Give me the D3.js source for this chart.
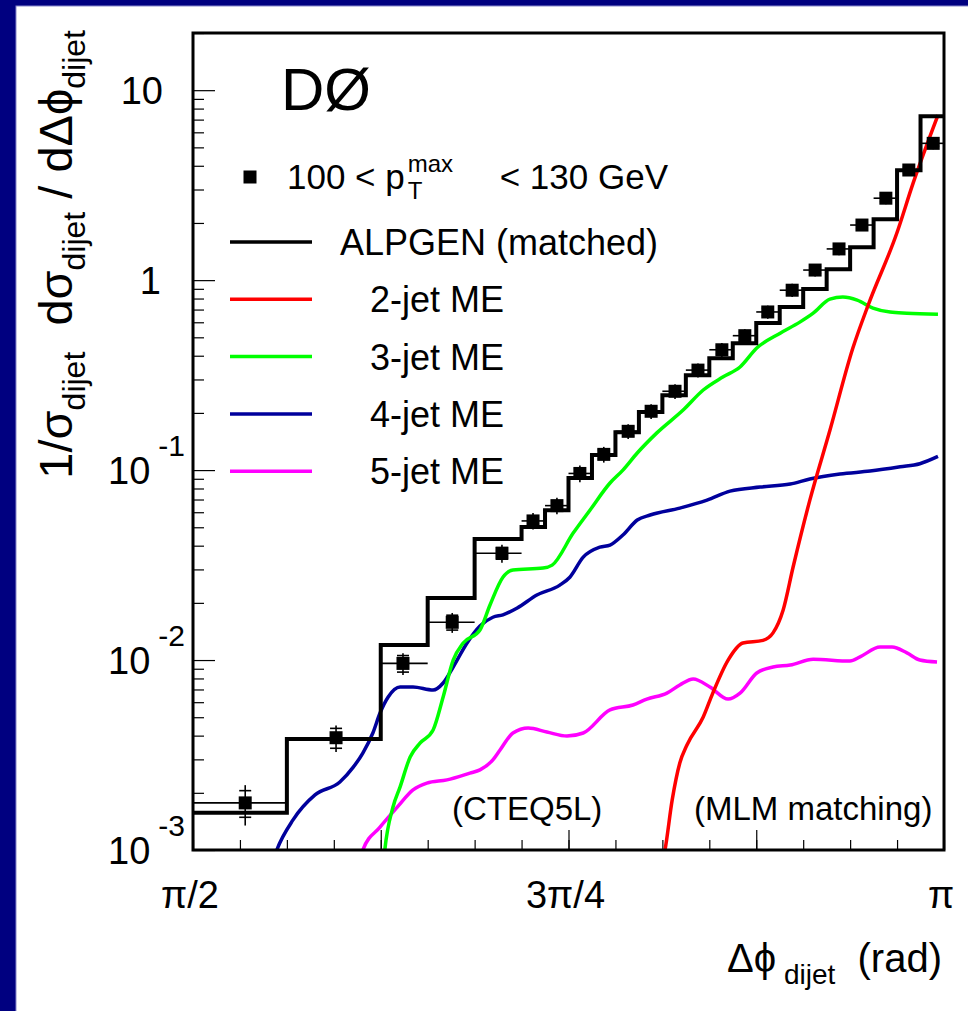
<!DOCTYPE html>
<html>
<head>
<meta charset="utf-8">
<script src="https://cdn.jsdelivr.net/npm/d3@7"></script>
<style>
body { margin: 0; background: #fff; }
text { font-family: "Liberation Sans", Arial, Helvetica, sans-serif; fill: #000; }
</style>
</head>
<body>
<svg id="chart" width="968" height="1011"></svg>
<script>

// bin edges in units of pi/64 above pi/2
var binEdges = [0, 4, 8, 10, 12, 14, 15, 16, 17, 18, 19, 20, 21, 22, 23, 24, 25, 26, 27, 28, 29, 30, 31, 32];

// D0 data, 100 < pT max < 130 GeV
var dataX = [1.680, 1.870, 2.010, 2.113, 2.217, 2.282, 2.332, 2.380, 2.430, 2.481, 2.529, 2.579,
             2.627, 2.677, 2.725, 2.773, 2.824, 2.872, 2.922, 2.970, 3.020, 3.068, 3.119];
var dataY = [1.77e-3, 3.9e-3, 9.6e-3, 1.58e-2, 3.65e-2, 5.4e-2, 6.5e-2, 0.096, 0.121, 0.16, 0.204, 0.26,
             0.336, 0.43, 0.51, 0.68, 0.885, 1.13, 1.46, 1.95, 2.7, 3.8, 5.25];
var statErr = [0.16, 0.12, 0.10, 0.09, 0.07, 0.06, 0.06, 0.06, 0.055, 0.055, 0.05, 0.05,
               0.05, 0.05, 0.045, 0.045, 0.045, 0.04, 0.04, 0.04, 0.04, 0.035, 0.035];
var totErr = [0.24, 0.16, 0.13, 0.12, 0.11, 0.10, 0.10, 0.10, 0.095, 0.09, 0.09, 0.09,
              0.085, 0.085, 0.08, 0.08, 0.08, 0.075, 0.075, 0.07, 0.07, 0.07, 0.07];

// ALPGEN (matched) histogram, one value per bin
var alpgen = [1.57e-3, 3.84e-3, 0.0120, 0.0212, 0.0434, 0.0501, 0.0615, 0.0908, 0.120, 0.158, 0.202, 0.248,
              0.316, 0.388, 0.466, 0.594, 0.721, 0.898, 1.14, 1.49, 2.09, 3.79, 7.3];

// n-jet ME contributions [dphi, value]
var me2 = [[2.548, 7.85e-4], [2.558, 1.0e-3], [2.573, 1.83e-3], [2.589, 2.87e-3], [2.604, 3.57e-3],
           [2.638, 5.01e-3], [2.658, 6.7e-3], [2.690, 1.0e-2], [2.721, 1.23e-2], [2.763, 1.27e-2],
           [2.784, 1.39e-2], [2.805, 1.83e-2], [2.826, 3.09e-2], [2.861, 6.95e-2], [2.903, 0.162],
           [2.951, 0.439], [2.983, 0.739], [3.043, 1.77], [3.077, 3.24], [3.129, 7.39]];

var me3 = [[1.968, 7.85e-4], [1.972, 1.0e-3], [1.989, 1.68e-3], [2.004, 2.15e-3], [2.025, 3.09e-3],
           [2.046, 3.66e-3], [2.073, 4.28e-3], [2.094, 6.39e-3], [2.115, 1.0e-2], [2.136, 1.23e-2],
           [2.171, 1.44e-2], [2.192, 1.95e-2], [2.219, 2.73e-2], [2.240, 2.98e-2], [2.303, 3.05e-2],
           [2.322, 3.16e-2], [2.366, 4.66e-2], [2.401, 6.15e-2], [2.443, 8.55e-2], [2.470, 0.1],
           [2.500, 0.123], [2.541, 0.157], [2.596, 0.207], [2.638, 0.264], [2.679, 0.309],
           [2.715, 0.349], [2.750, 0.439], [2.799, 0.526], [2.840, 0.601], [2.868, 0.670],
           [2.903, 0.794], [2.930, 0.814], [2.960, 0.785], [2.993, 0.713], [3.029, 0.679],
           [3.064, 0.670], [3.129, 0.662]];

var me4 = [[1.732, 7.85e-4], [1.746, 1.0e-3], [1.780, 1.44e-3], [1.826, 1.95e-3], [1.878, 2.28e-3],
           [1.906, 2.73e-3], [1.926, 3.24e-3], [1.947, 4.13e-3], [1.962, 5.26e-3], [1.979, 6.39e-3],
           [2.004, 7.21e-3], [2.031, 7.21e-3], [2.073, 6.95e-3], [2.094, 7.57e-3], [2.115, 9.19e-3],
           [2.144, 1.23e-2], [2.171, 1.51e-2], [2.198, 1.68e-2], [2.219, 1.73e-2], [2.249, 1.88e-2],
           [2.290, 2.20e-2], [2.338, 2.48e-2], [2.359, 2.73e-2], [2.387, 3.48e-2], [2.422, 3.93e-2],
           [2.443, 4.03e-2], [2.470, 4.55e-2], [2.500, 5.46e-2], [2.527, 5.80e-2], [2.589, 6.31e-2],
           [2.646, 6.95e-2], [2.694, 7.75e-2], [2.757, 8.14e-2], [2.820, 8.44e-2], [2.861, 8.97e-2],
           [2.924, 9.53e-2], [2.987, 9.88e-2], [3.050, 0.104], [3.091, 0.108], [3.129, 0.118]];

var me5 = [[1.920, 7.85e-4], [1.926, 1.0e-3], [1.962, 1.32e-3], [1.998, 1.68e-3], [2.031, 2.07e-3],
           [2.060, 2.25e-3], [2.102, 2.34e-3], [2.150, 2.54e-3], [2.171, 2.64e-3], [2.198, 2.98e-3],
           [2.213, 3.36e-3], [2.240, 4.13e-3], [2.272, 4.39e-3], [2.311, 4.18e-3], [2.353, 3.98e-3],
           [2.387, 4.13e-3], [2.443, 5.46e-3], [2.491, 5.80e-3], [2.520, 6.23e-3], [2.562, 6.70e-3],
           [2.589, 7.39e-3], [2.617, 7.94e-3], [2.652, 7.21e-3], [2.690, 6.23e-3], [2.715, 6.70e-3],
           [2.750, 8.55e-3], [2.784, 9.19e-3], [2.820, 9.41e-3], [2.868, 1.01e-2], [2.945, 9.88e-3],
           [2.966, 1.04e-2], [3.008, 1.17e-2], [3.033, 1.17e-2], [3.064, 1.09e-2], [3.091, 1.0e-2],
           [3.127, 9.76e-3]];

var legendLabels = ["ALPGEN (matched)", "   2-jet ME", "   3-jet ME", "   4-jet ME", "   5-jet ME"];
var legendColors = ["#000000", "#ff0000", "#00ff00", "#00009c", "#ff00ff"];
var xTickLabels = ["\u03c0/2", "3\u03c0/4", "\u03c0"];

var svg = d3.select("#chart");
var W = 968, H = 1011;
var mL = 193, mR = 944, mT = 33, mB = 850;

// navy frame of the slide (left and top only)
svg.append("rect").attr("x", 0).attr("y", 0).attr("width", W).attr("height", H).style("fill", "#000080");
svg.append("rect").attr("x", 16).attr("y", 6).attr("width", W).attr("height", H)
    .style("fill", "#ffffff").style("stroke", "#8888cc").style("stroke-width", 1);

var x = d3.scaleLinear().domain([Math.PI / 2, Math.PI]).range([mL, mR]);
var y = d3.scaleLog().domain([1e-3, 20]).range([mB, mT]);

var step = Math.PI / 64;
var edgeX = binEdges.map(function(k){ return Math.PI / 2 + k * step; });

// ticks
var yMajor = [1e-3, 1e-2, 1e-1, 1, 10];
var yMinor = [];
yMajor.forEach(function(d){
    for (var m = 2; m <= 9; m++) {
        if (d * m <= 20) yMinor.push(d * m);
    }
});
var xMinor = d3.range(0, 17).map(function(k){ return Math.PI / 2 + k * Math.PI / 32; });
var xMajor = d3.range(0, 5).map(function(k){ return Math.PI / 2 + k * Math.PI / 8; });

function tickAxis(axis, pos, vals, size) {
    var g = svg.append("g").attr("transform", pos)
        .call(axis.tickValues(vals).tickSize(-size).tickFormat(""));
    g.select(".domain").remove();
    g.selectAll("line").style("stroke", "#000").style("stroke-width", 1.2);
}
tickAxis(d3.axisLeft(y), "translate(" + mL + ",0)", yMinor, 11);
tickAxis(d3.axisLeft(y), "translate(" + mL + ",0)", yMajor, 22);
tickAxis(d3.axisBottom(x), "translate(0," + mB + ")", xMinor, 10);
tickAxis(d3.axisBottom(x), "translate(0," + mB + ")", xMajor, 20);

svg.append("clipPath").attr("id", "plotclip").append("rect")
    .attr("x", mL).attr("y", mT).attr("width", mR - mL).attr("height", mB - mT);
var plot = svg.append("g").attr("clip-path", "url(#plotclip)");

// ME curves
var curve = d3.line()
    .x(function(d){ return x(d[0]); })
    .y(function(d){ return y(d[1]); })
    .curve(d3.curveMonotoneX);

[[me5, legendColors[4]], [me4, legendColors[3]], [me3, legendColors[2]], [me2, legendColors[1]]].forEach(function(s){
    plot.append("path")
        .attr("d", curve(s[0]))
        .style("fill", "none")
        .style("stroke", s[1])
        .style("stroke-width", 3.5);
});

// ALPGEN histogram
var histPts = alpgen.map(function(v, i){ return [edgeX[i], v]; });
histPts.push([edgeX[edgeX.length - 1], alpgen[alpgen.length - 1]]);
plot.append("path")
    .attr("d", d3.line()
        .x(function(d){ return x(d[0]); })
        .y(function(d){ return y(d[1]); })
        .curve(d3.curveStepAfter)(histPts))
    .style("fill", "none")
    .style("stroke", "#000")
    .style("stroke-width", 4);

// data points with errors
var pts = dataY.map(function(v, i){
    return { x: dataX[i], v: v, lo: edgeX[i], hi: edgeX[i + 1], s: statErr[i], t: totErr[i] };
});
var dg = plot.append("g").selectAll("g").data(pts).enter().append("g");
dg.append("line")
    .attr("x1", function(d){ return x(d.lo); })
    .attr("x2", function(d){ return x(d.hi); })
    .attr("y1", function(d){ return y(d.v); })
    .attr("y2", function(d){ return y(d.v); })
    .style("stroke", "#000").style("stroke-width", 1.6);
dg.append("line")
    .attr("x1", function(d){ return x(d.x); })
    .attr("x2", function(d){ return x(d.x); })
    .attr("y1", function(d){ return y(d.v * (1 + d.t)); })
    .attr("y2", function(d){ return y(d.v * (1 - d.t)); })
    .style("stroke", "#000").style("stroke-width", 1.6);
[1, -1].forEach(function(sgn){
    dg.append("line")
        .attr("x1", function(d){ return x(d.x) - 6; })
        .attr("x2", function(d){ return x(d.x) + 6; })
        .attr("y1", function(d){ return y(d.v * (1 + sgn * d.s)); })
        .attr("y2", function(d){ return y(d.v * (1 + sgn * d.s)); })
        .style("stroke", "#000").style("stroke-width", 1.6);
});
dg.append("rect")
    .attr("x", function(d){ return x(d.x) - 6.5; })
    .attr("y", function(d){ return y(d.v) - 6.5; })
    .attr("width", 13).attr("height", 13)
    .style("fill", "#000");

// frame
svg.append("rect").attr("x", mL).attr("y", mT)
    .attr("width", mR - mL).attr("height", mB - mT)
    .style("fill", "none").style("stroke", "#000").style("stroke-width", 3);

// y tick labels
var yl = svg.append("g").style("font-size", "38px");
yl.append("text").attr("x", 163).attr("y", y(10)).attr("dy", "0.36em").attr("text-anchor", "end").text("10");
yl.append("text").attr("x", 161).attr("y", y(1)).attr("dy", "0.36em").attr("text-anchor", "end").text("1");
[-1, -2, -3].forEach(function(e){
    var t = yl.append("text").attr("x", 185).attr("y", y(Math.pow(10, e))).attr("dy", "0.36em")
        .attr("text-anchor", "end").text("10");
    t.append("tspan").attr("dx", 8).attr("dy", -28).style("font-size", "30px").text(e);
});

// x tick labels
svg.append("g").selectAll("text").data(xTickLabels).enter().append("text")
    .attr("x", function(d, i){ return x(Math.PI / 2 + i * Math.PI / 4) - 3; })
    .attr("y", 908)
    .attr("text-anchor", "middle")
    .style("font-size", "38px")
    .text(function(d){ return d; });

// axis titles
var xt = svg.append("text").attr("x", 942).attr("y", 972).attr("text-anchor", "end")
    .style("font-size", "40px").style("white-space", "pre");
xt.append("tspan").text("\u0394\u03d5");
xt.append("tspan").attr("dy", 12).style("font-size", "28px").text(" dijet");
xt.append("tspan").attr("dy", -12).text("  (rad)");

var ytl = svg.append("text").attr("transform", "translate(72,30) rotate(-90)")
    .attr("text-anchor", "end").style("font-size", "47px").style("white-space", "pre");
ytl.append("tspan").text("1/\u03c3");
ytl.append("tspan").attr("dy", 13).style("font-size", "32px").text("dijet");
ytl.append("tspan").attr("dy", -13).text("  d\u03c3");
ytl.append("tspan").attr("dy", 13).style("font-size", "32px").text("dijet");
ytl.append("tspan").attr("dy", -13).text(" / d\u0394\u03d5");
ytl.append("tspan").attr("dy", 13).style("font-size", "32px").text("dijet");

// DØ label
svg.append("text").attr("x", 281).attr("y", 110).style("font-size", "60px").text("D\u00d8");

// legend
svg.append("rect").attr("x", 243.5).attr("y", 170.5).attr("width", 13).attr("height", 13).style("fill", "#000");
var lt = svg.append("g").style("font-size", "35px").style("white-space", "pre");
var t1 = lt.append("text").attr("x", 287).attr("y", 189).text("100 < p");
var px = 287 + t1.node().getComputedTextLength() + 3;
lt.append("text").attr("x", px).attr("y", 199).style("font-size", "24px").text("T");
lt.append("text").attr("x", px).attr("y", 172).style("font-size", "24px").text("max");
lt.append("text").attr("x", 668).attr("y", 189).attr("text-anchor", "end").text("<  130 GeV");

var lg = svg.append("g").selectAll("g").data(legendLabels).enter().append("g")
    .attr("transform", function(d, i){ return "translate(0," + (242 + i * 57.3) + ")"; });
lg.append("line").attr("x1", 230).attr("x2", 312).attr("y1", 0).attr("y2", 0)
    .style("stroke", function(d, i){ return legendColors[i]; })
    .style("stroke-width", 3.5);
lg.append("text").attr("x", 340).attr("y", 0).attr("dy", "0.36em")
    .style("font-size", "36px").style("white-space", "pre")
    .text(function(d){ return d; });

// notes
svg.append("text").attr("x", 452).attr("y", 820).style("font-size", "33px").text("(CTEQ5L)");
svg.append("text").attr("x", 694).attr("y", 820).style("font-size", "33px").text("(MLM matching)");

</script>
</body>
</html>
